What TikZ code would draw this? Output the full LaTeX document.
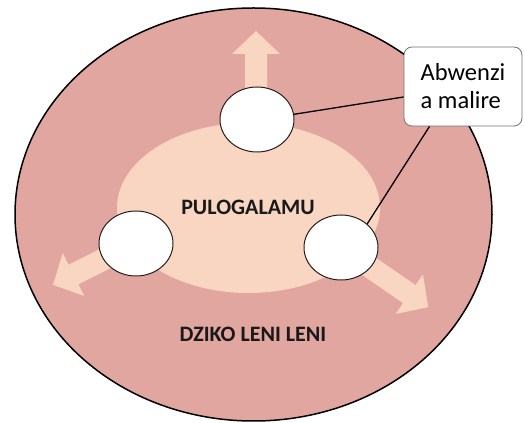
\documentclass[tikz,border=0pt]{standalone}
\usepackage{fontspec}
\setmainfont{Carlito}
\usetikzlibrary{shapes.geometric}
\definecolor{outerfill}{RGB}{225,166,159}
\definecolor{innerfill}{RGB}{249,214,194}
\definecolor{rimline}{RGB}{40,30,30}
\newcommand\fatarrow[3]{%
  \begin{scope}[shift={#1},rotate=#2]
    \fill[innerfill] (0,-11) -- ({#3-23},-11) -- ({#3-23},-24) -- (#3,0) -- ({#3-23},24) -- ({#3-23},11) -- (0,11) -- cycle;
  \end{scope}}
\begin{document}
\begin{tikzpicture}[x=1pt,y=1pt,
  blob/.style={ellipse,draw=rimline,line width=1pt,fill=white,minimum width=74pt,minimum height=65pt,inner sep=0pt},
  label/.style={font=\bfseries\fontsize{22}{26}\selectfont,text=black!90},
  link/.style={draw=black,line width=1.3pt}]
\useasboundingbox (0,0) rectangle (525,423);
\fill[white] (0,0) rectangle (525,423);
\node[ellipse,draw=black,line width=1.5pt,fill=outerfill,minimum width=477pt,minimum height=413pt,inner sep=0pt] (world) at (253.5,208.5) {};
\node[ellipse,fill=innerfill,minimum width=263pt,minimum height=170pt,inner sep=0pt] (prog) at (248.5,215) {};
\fatarrow{(256,300)}{90}{92}
\fatarrow{(136,180)}{206.8}{93}
\fatarrow{(341,176)}{-34.6}{106}
\node[blob] (top) at (257,303.5) {};
\node[blob] (left) at (136,179.5) {};
\node[blob] (right) at (341,175.5) {};
\node[label] (pname) at (248,216) {PULOGALAMU};
\node[label] (wname) at (253,89) {DZIKO LENI LENI};
\node[draw=black!55,line width=0.8pt,fill=white,rounded corners=8pt,minimum width=118pt,minimum height=79pt,inner sep=0pt,align=left,font=\fontsize{24.5}{28}\selectfont] (callout) at (463,336.5) {Abwenzi\\a malire};
\draw[link] (top.8) -- (callout.190);
\draw[link] (right.42) -- (callout.230);
\end{tikzpicture}
\end{document}
